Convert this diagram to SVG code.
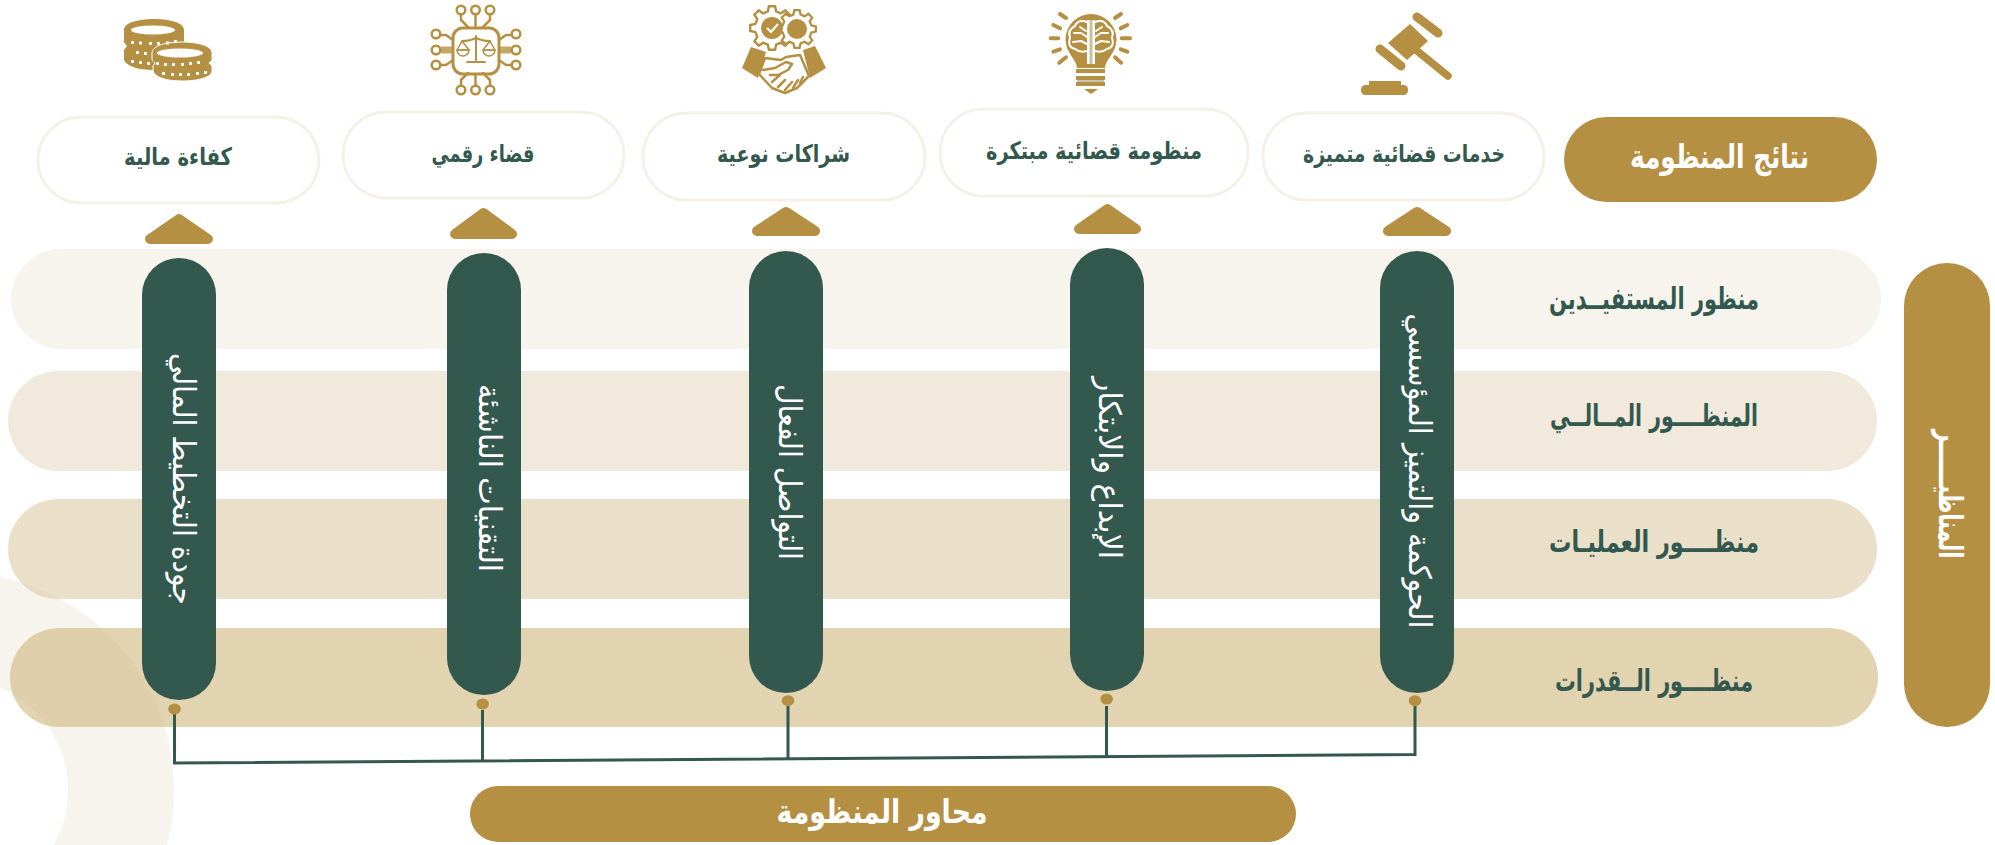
<svg xmlns="http://www.w3.org/2000/svg" width="1995" height="845" viewBox="0 0 1995 845">
<defs>
<style>
text{font-family:"DejaVu Sans","Noto Sans",sans-serif;direction:rtl;text-anchor:middle;dominant-baseline:middle}
.g{fill:#33584e;font-weight:700}
.w{fill:#fff;font-weight:700}
.v{fill:#fff;font-weight:400}
.out{fill:#fff;stroke:#f5f1e8;stroke-width:3}
.gold{fill:#b59043}
.tri{fill:#b59043;stroke:#b59043;stroke-width:10;stroke-linejoin:round}
.col{fill:#33584e}
.conn{stroke:#33584e;stroke-width:3;fill:none}
.ln{fill:none;stroke:#b59043;stroke-width:2.500;stroke-linecap:round;stroke-linejoin:round}
.wl{fill:none;stroke:#fff;stroke-width:2;stroke-linecap:round;stroke-linejoin:round}
.dot{fill:#fff}
</style>
<path id="gear" d="M75.700-18.900L99-13.900L99 13.900L75.700 18.900L66.900 40.200L79.900 60.200L60.200 79.900L40.200 66.900L18.900 75.700L13.900 99L-13.900 99L-18.900 75.700L-40.200 66.900L-60.200 79.900L-79.900 60.200L-66.900 40.200L-75.700 18.900L-99 13.900L-99-13.900L-75.700-18.900L-66.900-40.200L-79.900-60.200L-60.200-79.900L-40.200-66.900L-18.900-75.700L-13.900-99L13.900-99L18.900-75.700L40.200-66.900L60.200-79.900L79.900-60.200L66.900-40.200Z"/>
<g id="lobe">
<path d="M1087 22Q1078 19 1075 26Q1067 30 1070 38Q1067 47 1075 49Q1080 53 1087 51"/>
<path d="M1074 33H1081L1087 37M1073 42L1081 41L1087 44M1080 27L1086 31"/>
</g>
<g id="pin-t"><circle cx="461" cy="10" r="4.300"/><path d="M461 14.500V20L468 27"/></g>
</defs>
<rect width="1995" height="845" fill="#fff"/>
<path id="ring-base" d="M-43 573A217 217 0 1 1-43 1007A217 217 0 1 1-43 573ZM-43 679A111 111 0 1 0-43 901A111 111 0 1 0-43 679Z" fill="#fbfaf8" fill-rule="evenodd"/>
<g id="bands">
<rect id="band1" x="11" y="249" width="1870" height="100" rx="50" fill="#f7f4ed"/>
<rect id="band2" x="8" y="371" width="1869" height="100" rx="50" fill="#f1e9db"/>
<rect id="band3" x="8" y="499" width="1869" height="100" rx="50" fill="#eae0ca"/>
<rect id="band4" x="10" y="628" width="1868" height="99" rx="49.500" fill="#e2d3b1"/>
</g>
<path id="ring" d="M-43 573A217 217 0 1 1-43 1007A217 217 0 1 1-43 573ZM-43 679A111 111 0 1 0-43 901A111 111 0 1 0-43 679Z" fill="#b59043" opacity=".06" fill-rule="evenodd"/>
<g id="labels">
<text class="g" x="1654" y="300" font-size="30" textLength="210" lengthAdjust="spacingAndGlyphs">منظور المستفيــدين</text>
<text class="g" x="1654" y="417" font-size="30" textLength="208" lengthAdjust="spacingAndGlyphs">المنظــــور المــالــي</text>
<text class="g" x="1654" y="543" font-size="30" textLength="210" lengthAdjust="spacingAndGlyphs">منظــــور  العمليـات</text>
<text class="g" x="1654" y="682" font-size="30" textLength="198" lengthAdjust="spacingAndGlyphs">منظــــور  الــقدرات</text>
</g>
<g id="connectors">
<path class="conn" d="M174.500 714V763L1415 754.500V706M482.500 710V761M788 706V759M1106.500 706V757"/>
</g>
<g id="col1"><rect class="col" x="142" y="258" width="74" height="442" rx="37"/><ellipse class="gold" cx="174.500" cy="709" rx="6.300" ry="5.500"/><text class="v" transform="translate(181 479) rotate(90)" font-size="31" textLength="252" lengthAdjust="spacingAndGlyphs">جودة التخطيط المالي</text></g>
<g id="col2"><rect class="col" x="447" y="253" width="74" height="442" rx="37"/><ellipse class="gold" cx="482.600" cy="704" rx="6.300" ry="5.500"/><text class="v" transform="translate(487 478) rotate(90)" font-size="31" textLength="188" lengthAdjust="spacingAndGlyphs">التقنيات الناشئة</text></g>
<g id="col3"><rect class="col" x="749" y="251" width="74" height="442" rx="37"/><ellipse class="gold" cx="788" cy="700.700" rx="6.300" ry="5.500"/><text class="v" transform="translate(787 472) rotate(90)" font-size="31" textLength="176" lengthAdjust="spacingAndGlyphs">التواصل الفعال</text></g>
<g id="col4"><rect class="col" x="1070" y="248" width="74" height="443" rx="37"/><ellipse class="gold" cx="1106.600" cy="699" rx="6.300" ry="5.500"/><text class="v" transform="translate(1107 468) rotate(90)" font-size="31" textLength="182" lengthAdjust="spacingAndGlyphs">الإبداع والابتكار</text></g>
<g id="col5"><rect class="col" x="1380" y="251" width="74" height="442" rx="37"/><ellipse class="gold" cx="1415" cy="700.700" rx="6.300" ry="5.500"/><text class="v" transform="translate(1417 471) rotate(90)" font-size="31" textLength="315" lengthAdjust="spacingAndGlyphs">الحوكمة والتميز المؤسسي</text></g>
<g id="out1"><rect class="out" x="38" y="117" width="281" height="86" rx="43"/><text class="g" x="178" y="158" font-size="24" textLength="108" lengthAdjust="spacingAndGlyphs">كفاءة مالية</text><path class="tri" d="M179 219L208 239H150Z"/></g>
<g id="out2"><rect class="out" x="343" y="112" width="281" height="86" rx="43"/><text class="g" x="483" y="155" font-size="24" textLength="103" lengthAdjust="spacingAndGlyphs">قضاء رقمي</text><path class="tri" d="M483.500 213L512 234H455Z"/></g>
<g id="out3"><rect class="out" x="643" y="113" width="282" height="87" rx="43"/><text class="g" x="783.500" y="155" font-size="24" textLength="133" lengthAdjust="spacingAndGlyphs">شراكات نوعية</text><path class="tri" d="M786 212L815 231H757Z"/></g>
<g id="out4"><rect class="out" x="940" y="109" width="308" height="87" rx="43"/><text class="g" x="1094" y="152" font-size="24" textLength="216" lengthAdjust="spacingAndGlyphs">منظومة قضائية مبتكرة</text><path class="tri" d="M1107.500 209L1136 229H1079Z"/></g>
<g id="out5"><rect class="out" x="1263" y="113" width="281" height="87" rx="43"/><text class="g" x="1404" y="155" font-size="24" textLength="202" lengthAdjust="spacingAndGlyphs">خدمات قضائية متميزة</text><path class="tri" d="M1417 212L1446 231H1388Z"/></g>
<g id="title-out"><rect class="gold" x="1564" y="117" width="313" height="85" rx="42.500"/><text class="w" x="1719.500" y="158" font-size="33" textLength="179" lengthAdjust="spacingAndGlyphs">نتائج المنظومة</text></g>
<g id="title-lens"><rect class="gold" x="1904" y="263" width="86" height="464" rx="43"/><text class="w" transform="translate(1948 494) rotate(90)" font-size="33" textLength="129" lengthAdjust="spacingAndGlyphs">المناظيــــــر</text></g>
<g id="title-axes"><rect class="gold" x="470" y="786" width="826" height="56" rx="28"/><text class="w" x="882" y="813" font-size="33" textLength="211" lengthAdjust="spacingAndGlyphs">محاور المنظومة</text></g>
<g id="icon-coins">
<path class="gold" d="M124 30C124 23 137 19 154 19C171 19 184 23 184 30V42L181 46L184 50V60C184 66 171 70 154 70C137 70 127 66 124 60V50L127 46L124 42Z"/>
<ellipse cx="153" cy="30" rx="22" ry="4.600" fill="#fff"/>
<path d="M152 53C152 46 165 42 182 42C199 42 212 46 212 53V60L209 63L212 66V71C212 77 199 81 182 81C165 81 155 77 153 71V66L155 63L152 60Z" fill="#b59043" stroke="#fff" stroke-width="1"/>
<ellipse cx="180" cy="53" rx="23" ry="4.500" fill="#fff"/>
<g class="dot"><rect x="131" y="41" width="3" height="3"/><rect x="139" y="41.500" width="3" height="3"/><rect x="149" y="42" width="3" height="3"/><rect x="157" y="42" width="3" height="3"/><rect x="166" y="41.500" width="3" height="3"/><rect x="174" y="40" width="3" height="3"/><rect x="136" y="51" width="3" height="3"/><rect x="144" y="52" width="3" height="3"/><rect x="131" y="60" width="3" height="3"/><rect x="139" y="61" width="3" height="3"/><rect x="147" y="62" width="3" height="3"/><rect x="156" y="62" width="3" height="3"/><rect x="164" y="63" width="3" height="3"/><rect x="172" y="63" width="3" height="3"/><rect x="181" y="63" width="3" height="3"/><rect x="189" y="62" width="3" height="3"/><rect x="197" y="61" width="3" height="3"/><rect x="162" y="72" width="3" height="3"/><rect x="171" y="73" width="3" height="3"/><rect x="179" y="73" width="3" height="3"/><rect x="187" y="73" width="3" height="3"/><rect x="196" y="72" width="3" height="3"/><rect x="204" y="71" width="3" height="3"/></g>
</g>
<g id="icon-chip">
<rect x="453" y="28" width="46" height="46" rx="10" fill="#fff" stroke="#b59043" stroke-width="3"/>
<g class="ln">
<use href="#pin-t"/>
<circle cx="475.500" cy="10" r="4.300"/><path d="M475.500 14.500V27"/>
<use href="#pin-t" transform="matrix(-1 0 0 1 951 0)"/>
<use href="#pin-t" transform="matrix(1 0 0 -1 0 100)"/>
<circle cx="475.500" cy="90" r="4.300"/><path d="M475.500 85.500V75"/>
<use href="#pin-t" transform="matrix(-1 0 0 -1 951 100)"/>
<circle cx="436" cy="34" r="4.300"/><path d="M440 35L446 35L453 40"/>
<circle cx="436" cy="50" r="4.300"/>
<circle cx="436" cy="65" r="4.300"/><path d="M440 65L446 65L453 60"/>
<circle cx="516" cy="34" r="4.300"/><path d="M512 35L506 35L499 40"/>
<circle cx="516" cy="50" r="4.300"/>
<circle cx="516" cy="65" r="4.300"/><path d="M512 65L506 65L499 60"/>
<path d="M441 50H452M500 50H511" stroke-width="7" stroke-linecap="butt" opacity=".8"/>
<path d="M476 36V60M462 41Q470 41 476 38Q482 41 490 41M467 62H485" stroke-width="2"/>
<path d="M462 41L457 50H469ZM490 41L483 50H495Z" stroke-width="1.500"/>
<path d="M457 50A6 6 0 0 0 469 50ZM483 50A6 6 0 0 0 495 50Z" stroke-width="1.500"/>
</g>
</g>
<g id="icon-deal">
<use href="#gear" transform="translate(772 28) scale(.22)" fill="#fff" stroke="#b59043" stroke-width="11"/>
<use href="#gear" transform="translate(797 29) scale(.19)" fill="#fff" stroke="#b59043" stroke-width="12"/>
<circle class="gold" cx="772" cy="28" r="11"/>
<circle class="gold" cx="797" cy="29" r="10"/>
<path d="M767 28L771 32L778 24" fill="none" stroke="#fff" stroke-width="2.200"/>
<path class="gold" d="M751 47L766 52L758 78L742 68ZM803 50L815 46L826 68L810 78Z"/>
<path d="M765 58L781 60L786 57L800 55L809 76L797 88L785 93L772 88L759 74Z" fill="#fff" stroke="#b59043" stroke-width="2.500" stroke-linejoin="round"/>
<path class="ln" d="M786 62L775 68L763 70M786 62L792 64L788 70L778 75L770 75M778 87L785 80M785 90L792 82M793 88L798 80M800 83L803 77M772 82L780 75"/>
</g>
<g id="icon-bulb">
<path class="gold" d="M1077 68C1077 60 1065.500 53 1065.500 39.500A25.500 25.500 0 0 1 1116.500 39.500C1116.500 53 1105 60 1105 68Z"/>
<rect x="1087" y="20" width="8" height="44" fill="#fff"/>
<rect x="1089.500" y="20" width="3" height="44" fill="#cbbf9f"/>
<g class="wl"><use href="#lobe"/><use href="#lobe" transform="matrix(-1 0 0 1 2182 0)"/></g>
<rect class="gold" x="1076" y="69" width="29" height="4"/>
<rect class="gold" x="1076" y="76" width="29" height="4"/>
<rect x="1077" y="80" width="27" height="2" fill="#cbc2af"/>
<rect class="gold" x="1076" y="82" width="29" height="4"/>
<path class="gold" d="M1084 89H1098L1091 94Z"/>
<path d="M1060 14L1066 18M1053.300 25L1060 28.300M1050.700 38.300H1058.300M1053.300 51.700L1060 49.300M1059.300 62.700L1066 57.300M1121 14L1115 18M1127.300 25L1120.700 28.300M1130 38.300H1121.700M1127.300 51.700L1120.700 49.300M1121 62.700L1115 57.300" fill="none" stroke="#b59043" stroke-width="4" stroke-linecap="round"/>
</g>
<g id="icon-gavel">
<path class="gold" d="M1410 24L1388 43L1407 60L1428 41Z"/>
<path d="M1417 17L1438 33M1380 49L1401 66" fill="none" stroke="#b59043" stroke-width="9" stroke-linecap="round"/>
<path d="M1416 50L1448 76" fill="none" stroke="#b59043" stroke-width="7.500" stroke-linecap="round"/>
<rect class="gold" x="1369" y="81" width="32" height="6"/>
<rect class="gold" x="1361" y="85" width="47" height="10" rx="4.500"/>
</g>
</svg>
